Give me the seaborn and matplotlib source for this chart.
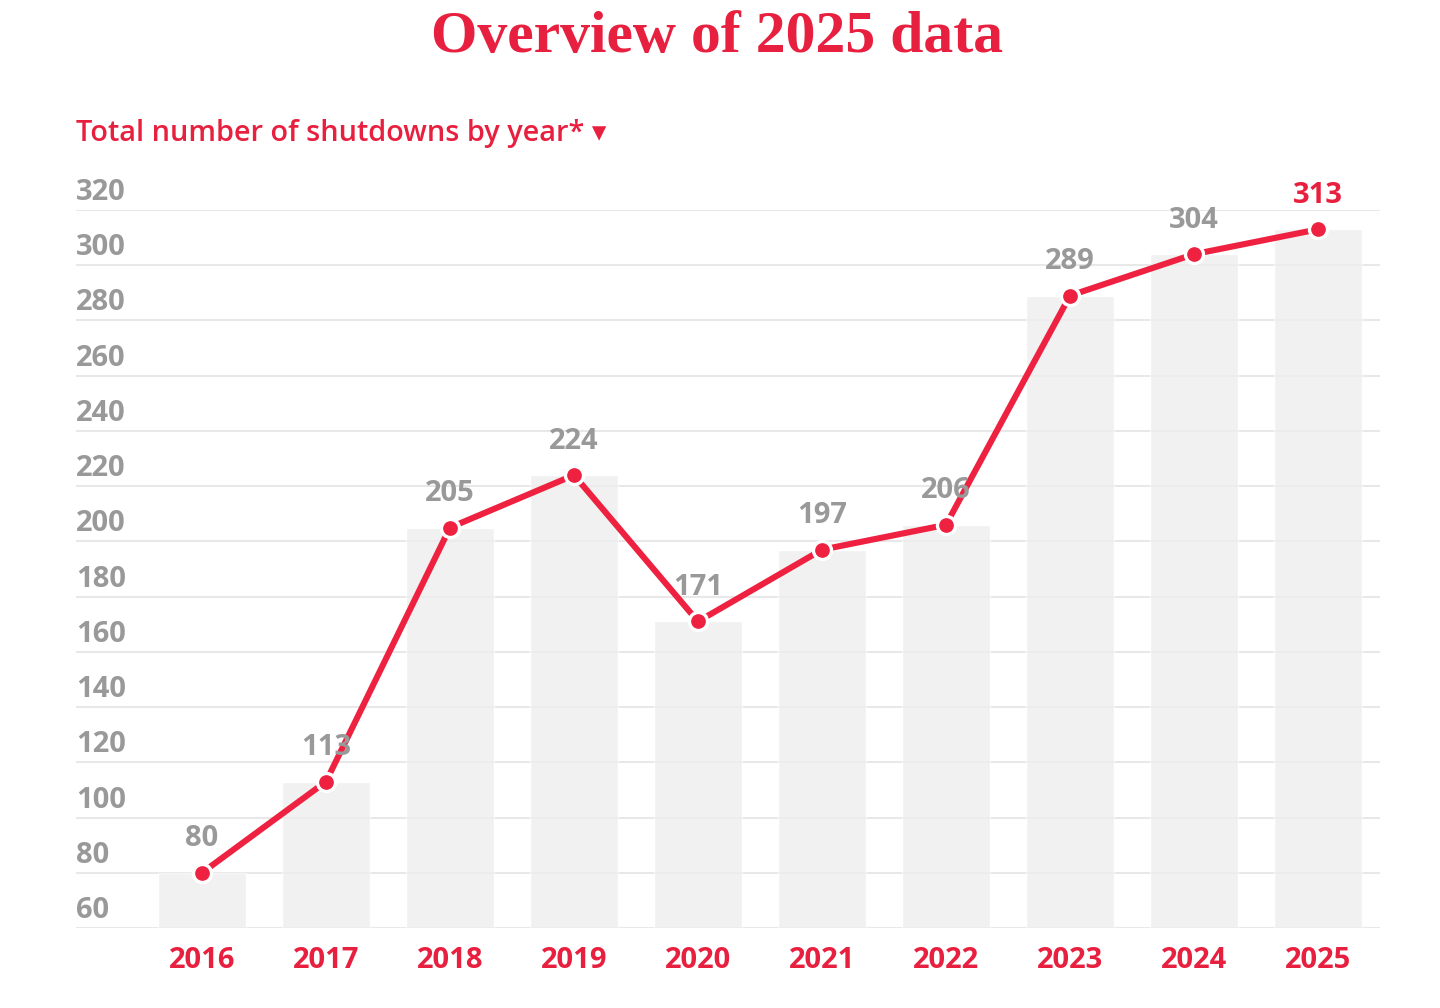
import matplotlib
matplotlib.use("Agg")
import matplotlib.pyplot as plt
import matplotlib.transforms as mtransforms
import seaborn as sns
import pandas as pd

years = ["2016", "2017", "2018", "2019", "2020", "2021", "2022", "2023", "2024", "2025"]
shutdowns = [80, 113, 205, 224, 171, 197, 206, 289, 304, 313]
y_ticks = [60, 80, 100, 120, 140, 160, 180, 200, 220, 240, 260, 280, 300, 320]

RED = "#E8203F"
LINE_RED = "#EF2140"
GRAY = "#999999"
BAR = "#F1F1F1"

sns.set_theme(style="white")
plt.rcParams['font.family'] = ['Open Sans', 'DejaVu Sans']

df = pd.DataFrame({"year": years, "value": shutdowns})

fig = plt.figure(figsize=(14.4, 10.08), dpi=100)
ax = fig.add_axes([76/1440, 80/1008, (1380-76)/1440, (928-210)/1008])

for t in y_ticks:
    ax.axhline(t, color="#EBEBEB", lw=1.5, zorder=0)

sns.barplot(data=df, x="year", y="value", color=BAR, width=0.71, ax=ax,
            zorder=1, saturation=1)
for t in y_ticks:
    ax.axhline(t, color="#E4E4E4", lw=1.2, alpha=0.45, zorder=1.5)

sns.pointplot(data=df, x="year", y="value", color=LINE_RED, ax=ax,
              markers="o", linewidth=4.4, markersize=13,
              markeredgecolor="white", markeredgewidth=2.4, zorder=3, errorbar=None)

ax.set_ylim(60, 320)
ax.set_xlim(-1.016, 9.5)
ax.set_yticks([])
ax.set_xlabel("")
ax.set_ylabel("")
for s in ax.spines.values():
    s.set_visible(False)

ax.tick_params(axis="x", length=0, pad=13)
ax.set_xticks(range(len(years)))
ax.set_xticklabels(years, color=RED, fontsize=21, fontweight="bold")

trans = mtransforms.blended_transform_factory(ax.transAxes, ax.transData)
off = mtransforms.offset_copy(trans, fig=fig, x=0, y=3, units="dots")
for t in y_ticks:
    ax.text(0.0, t, str(t), transform=off, ha="left", va="bottom",
            color=GRAY, fontsize=21, fontweight="bold")

for i, v in enumerate(shutdowns):
    c = RED if i == len(shutdowns) - 1 else GRAY
    ax.annotate(str(v), (i, v), xytext=(0, 14), textcoords="offset points",
                ha="center", va="bottom", color=c, fontsize=21, fontweight="bold")

fig.text(717/1440, 1 - 38/1008, "Overview of 2025 data", ha="center", va="center",
         color=RED, fontsize=43, fontweight="bold", family=["Liberation Serif", "DejaVu Serif"])
fig.text(76/1440, 1 - 133/1008, "Total number of shutdowns by year* \u25BE", ha="left", va="center",
         color=RED, fontsize=20.8, fontweight="semibold", family=["Open Sans", "DejaVu Sans"])

fig.savefig("out.png", dpi=100, facecolor="white")
